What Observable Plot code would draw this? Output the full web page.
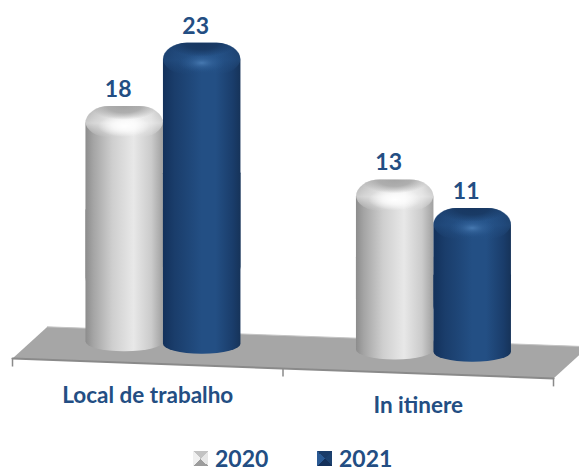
<!DOCTYPE html>
<html lang="pt">
<head>
<meta charset="utf-8">
<title>Acidentes de trabalho</title>
<style>
  html, body { margin: 0; padding: 0; background: #fff; overflow: hidden; }
  #chart svg { display: block; }
  #legend {
    height: 26px; position: relative;
    font: 700 23px/20px Lato, sans-serif; color: #234e83;
  }
  #legend .item { position: absolute; top: 3px; display: flex; align-items: center; gap: 7px; }
  #legend .swatch { width: 15px; height: 15px; display: block; }
  .s2020 { background: conic-gradient(from 45deg, #e6e6e6 0 25%, #9c9c9c 25% 50%, #f0f0f0 50% 75%, #c2c2c2 75% 100%); }
  .s2021 { background: conic-gradient(from 45deg, #1c416f 0 25%, #14305a 25% 50%, #2a5a94 50% 75%, #1a3c69 75% 100%); }
</style>
<script src="https://cdn.jsdelivr.net/npm/d3@7"></script>
<script src="https://cdn.jsdelivr.net/npm/@observablehq/plot@0.6"></script>
</head>
<body>
<div id="chart"></div>
<div id="legend"></div>
<script>
const categories = ["Local de trabalho", "In itinere"];
const years = ["2020", "2021"];
const values2020 = [18, 13];
const values2021 = [23, 11];
const seriesValues = [values2020, values2021];

const ink = "#234e83";
const font = "Lato, sans-serif";

// The floor falls gently to the right, so every column starts from a sloped zero.
const barSlope = 0.62;
const floorAt = (x) => -barSlope * x;
const frontSlope = 0.76;
const frontDrop = 1.53;
const floorDepthX = 0.129;
const floorDepthY = 2.52;
const frontAt = (x) => -frontSlope * x - frontDrop;

const groupCentre = 0.558;
const barWidth = 0.2865;

const bars = categories.flatMap((category, c) =>
  years.map((year, s) => {
    const x1 = c + groupCentre + (s - 1) * barWidth;
    const x2 = x1 + barWidth;
    const base = floorAt((x1 + x2) / 2);
    const value = seriesValues[s][c];
    return { category, year, value, x1, x2, xm: (x1 + x2) / 2, base, top: base + value };
  })
);

const floorCorners = [
  { x: 0, y: frontAt(0) },
  { x: 2, y: frontAt(2) },
  { x: 2 + floorDepthX, y: frontAt(2 + floorDepthX) + floorDepthY },
  { x: floorDepthX, y: frontAt(floorDepthX) + floorDepthY }
];
const tickPositions = [0, 1, 2];
const labelPositions = [0.5, 1.5];

// Shared gradients for the cylinder bodies and their domed caps.
function gradients() {
  const defs = d3.create("svg:defs");
  const linear = (id, stops, vertical = false) => {
    const g = defs.append("linearGradient").attr("id", id)
      .attr("x1", 0).attr("y1", 0)
      .attr("x2", vertical ? 0 : 1).attr("y2", vertical ? 1 : 0);
    for (const [o, c, a = 1] of stops) {
      g.append("stop").attr("offset", o).attr("stop-color", c).attr("stop-opacity", a);
    }
  };
  const radial = (id, cy, r, stops) => {
    const g = defs.append("radialGradient").attr("id", id)
      .attr("cx", 0.5).attr("cy", cy).attr("r", r);
    for (const [o, c, a] of stops) {
      g.append("stop").attr("offset", o).attr("stop-color", c).attr("stop-opacity", a);
    }
  };
  linear("body2020", [[0, "#8c8c8c"], [0.1, "#a4a4a4"], [0.35, "#cfcfcf"], [0.62, "#e8e8e8"], [0.85, "#cbcbcb"], [1, "#a0a0a0"]]);
  linear("body2021", [[0, "#13315b"], [0.15, "#1a3d6b"], [0.5, "#234f84"], [0.68, "#234f84"], [0.9, "#1a3d6b"], [1, "#163359"]]);
  linear("rim2020", [[0, "#fff", 0.25], [0.55, "#fff", 0.55], [1, "#fff", 0]], true);
  linear("rim2021", [[0, "#2a5a92", 0.25], [0.55, "#2a5a92", 0.45], [1, "#2a5a92", 0]], true);
  radial("glow2020", 0.64, 0.34, [[0, "#fff", 1], [0.45, "#fff", 0.7], [1, "#fff", 0]]);
  radial("glow2021", 0.64, 0.3, [[0, "#4d80b8", 0.85], [0.45, "#3a6ba3", 0.45], [1, "#2a5a92", 0]]);
  radial("well2020", 0, 0.44, [[0, "#a4a4a4", 1], [0.5, "#a8a8a8", 0.9], [1, "#a8a8a8", 0]]);
  radial("well2021", 0, 0.44, [[0, "#173660", 1], [0.5, "#183862", 0.9], [1, "#183862", 0]]);
  return defs.node();
}

const capUnits = 2.4;

// One layer per bar, painted in series order so each 2021 column sits over its neighbour.
const barLayers = years.flatMap((year) => {
  const subset = bars.filter((d) => d.year === year);
  const rect = (options) => Plot.rect(subset, { x1: "x1", x2: "x2", ...options });
  const capOptions = (kind) => ({
    y1: (d) => d.top - capUnits, y2: "top",
    fill: `url(#${kind}${year})`,
    rx: 24, ry: 17
  });
  return [
    rect({ y1: (d) => d.base + d.value * 0.2, y2: "top", fill: `url(#body${year})`, rx: 24, ry: 17 }),
    rect({ y1: "base", y2: (d) => d.base + d.value * 0.6, fill: `url(#body${year})`, rx: 38, ry: 10, insetBottom: -10 }),
    rect(capOptions("rim")),
    rect(capOptions("glow")),
    rect(capOptions("well"))
  ];
});

const chart = Plot.plot({
  width: 579,
  height: 445,
  margin: 0,
  x: { domain: [-0.0444, 2.0961], range: [0, 579], axis: null },
  y: { domain: [-8.18, 25.84], range: [445, 0], axis: null },
  style: { background: "#fff", fontFamily: font },
  marks: [
    gradients,
    Plot.line(floorCorners, { x: "x", y: "y", curve: "linear-closed", fill: "#a6a6a6", stroke: "none" }),
    Plot.line(floorCorners.slice(0, 2), { x: "x", y: "y", stroke: "#8a8a8a", strokeWidth: 2 }),
    Plot.line(floorCorners.slice(2), { x: "x", y: "y", stroke: "#c4c4c4", strokeWidth: 1 }),
    Plot.ruleX(tickPositions, { x: (d) => d, y1: (d) => frontAt(d), y2: (d) => frontAt(d) - 0.65, stroke: "#8a8a8a", strokeWidth: 1.5 }),
    ...barLayers,
    Plot.text(bars, {
      x: "xm", y: "top", text: (d) => String(d.value),
      dx: -6.5, dy: -17, fill: ink, fontSize: 23, fontWeight: 700, fontFamily: font
    }),
    Plot.text(categories, {
      x: (d, i) => labelPositions[i],
      y: (d, i) => frontAt(labelPositions[i]),
      text: (d) => d,
      dy: 32, fill: ink, fontSize: 22.5, fontWeight: 700, fontFamily: font
    })
  ]
});
document.getElementById("chart").append(chart);

// Year key sitting under the plot.
const legend = d3.select("#legend");
const legendOffsets = [193, 317];
years.forEach((year, i) => {
  const item = legend.append("div").attr("class", "item").style("left", legendOffsets[i] + "px");
  item.append("span").attr("class", `swatch s${year}`);
  item.append("span").text(year);
});
</script>
</body>
</html>
